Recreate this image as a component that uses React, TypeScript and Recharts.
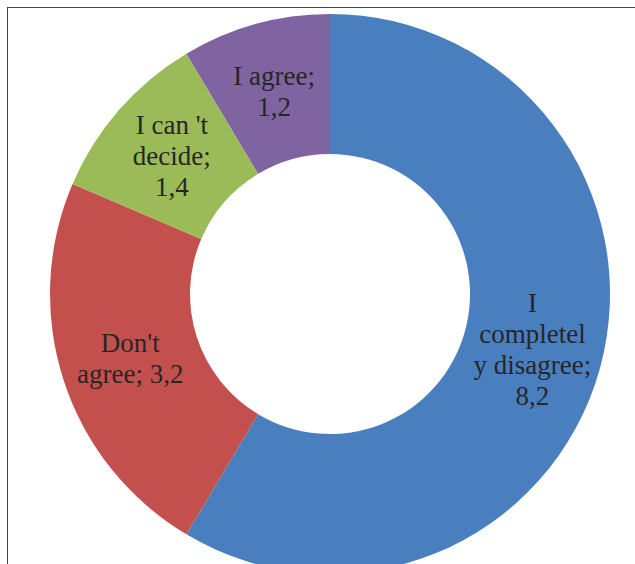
import { PieChart, Pie, Cell } from 'recharts'

const categories = ["I completely disagree", "Don't agree", "I can 't decide", 'I agree']
const values = [8.2, 3.2, 1.4, 1.2]
const labelLines = [
  ['I', 'completel', 'y disagree;', '8,2'],
  ["Don't", 'agree; 3,2'],
  ["I can 't", 'decide;', '1,4'],
  ['I agree;', '1,2'],
]
const colors = ['#4A7FBF', '#C4504D', '#9BBB59', '#8064A2']

const data = categories.map((name, i) => ({ name, value: values[i], lines: labelLines[i] }))

const RADIAN = Math.PI / 180
const LINE_H = 31

function renderLabel(props: any) {
  const { cx, cy, midAngle, innerRadius, outerRadius, index } = props
  const r = (innerRadius + outerRadius) / 2
  const x = cx + r * Math.cos(-midAngle * RADIAN)
  const y = cy + r * Math.sin(-midAngle * RADIAN)
  const lines: string[] = data[index].lines
  const top = y - ((lines.length - 1) * LINE_H) / 2
  return (
    <g key={`lbl-${index}`}>
      {lines.map((l, i) => (
        <text
          key={i}
          x={x}
          y={top + i * LINE_H + 9}
          textAnchor="middle"
          fill="#262626"
          fontFamily="Liberation Serif"
          fontSize={27}
        >
          {l}
        </text>
      ))}
    </g>
  )
}

export default function App() {
  return (
    <div style={{ position: 'absolute', left: 0, top: 0, width: 635, height: 564, overflow: 'hidden', background: '#fff' }}>
      <div
        style={{
          position: 'absolute',
          left: 7,
          top: 7,
          width: 700,
          height: 700,
          borderLeft: '1.5px solid #444',
          borderTop: '1.5px solid #444',
        }}
      />
      <div style={{ position: 'absolute', left: 0, top: 0 }}>
        <PieChart width={635} height={564} margin={{ top: 0, right: 0, bottom: 0, left: 0 }}>
          <Pie
            data={data}
            dataKey="value"
            nameKey="name"
            cx={330}
            cy={294}
            innerRadius={140}
            outerRadius={280}
            startAngle={90}
            endAngle={-270}
            stroke="none"
            label={renderLabel}
            labelLine={false}
            isAnimationActive={false}
          >
            {data.map((d, i) => (
              <Cell key={d.name} fill={colors[i]} />
            ))}
          </Pie>
        </PieChart>
      </div>
    </div>
  )
}
